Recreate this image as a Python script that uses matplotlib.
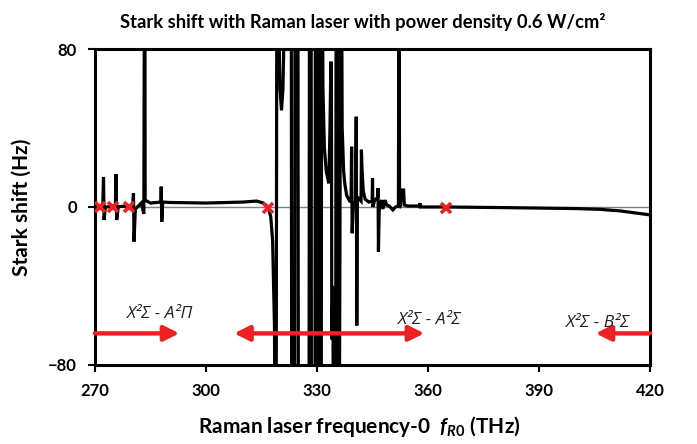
import matplotlib
matplotlib.use('Agg')
import matplotlib.pyplot as plt

plt.rcParams['font.family'] = ['Lato', 'DejaVu Sans']
plt.rcParams['mathtext.fontset'] = 'custom'
plt.rcParams['mathtext.it'] = 'Lato:italic:bold'
plt.rcParams['mathtext.rm'] = 'Lato:bold'

# Stark shift curve (THz, Hz); values past +-80 run off the axes
freq = [270.0, 271.4, 272.1, 272.3, 272.45, 272.8, 274.9, 275.5, 275.7, 275.85,
        276.3, 279.3, 280.2, 280.4, 280.55, 280.9, 282.5, 283.2, 283.45, 283.55,
        284.0, 285.0, 287.8, 287.9, 288.05, 288.3, 290.0, 300.0, 310.0, 313.7,
        315.5, 316.8, 317.5, 318.0, 318.5, 318.9, 319.2, 319.6, 320.0, 320.4,
        320.8, 321.2, 321.5, 323.0, 323.2, 323.9, 324.1, 324.8, 325.0, 327.8,
        328.0, 328.4, 328.5, 329.4, 329.6, 329.9, 330.0, 330.3, 330.4, 330.7,
        330.8, 331.1, 331.3, 331.6, 332.0, 332.5, 333.2, 333.5, 333.75, 333.9,
        334.0, 334.3, 334.5, 335.0, 335.2, 335.6, 335.9, 336.2, 336.5, 336.8,
        337.2, 337.5, 338.0, 338.8, 339.2, 339.35, 339.5, 339.8, 340.4, 340.6,
        340.75, 340.9, 341.9, 342.0, 342.15, 342.5, 343.0, 344.0, 344.9, 345.0,
        345.1, 345.5, 346.4, 346.5, 346.6, 346.8, 347.2, 347.5, 347.8, 348.4,
        348.8, 349.5, 350.5, 351.2, 352.0, 352.2, 352.3, 352.6, 352.8, 353.4,
        353.6, 354.5, 357.7, 357.8, 357.9, 365.0, 380.0, 400.0, 406.5, 412.0,
        420.0]
shift = [0.3, 0.2, 0.5, 15.2, -6.6, 0.0, 0.3, 1.0, 16.7, -6.6,
         0.2, 0.5, 1.5, 6.9, -17.5, -1.0, 2.0, -3.5, 200, 3.5,
         3.0, 2.0, 2.5, 10.3, -7.4, 2.5, 2.3, 2.0, 2.5, 3.0,
         2.0, 0.0, -5.0, -17.0, -60.0, -200, 200, 100, 60, 49,
         60, 100, 200, 200, -200, -200, 200, 200, -200, -200,
         200, 200, -200, -200, 200, 200, -200, -200, 200, 200,
         -200, -200, 200, 60, 30, 18, 12, 40, 73.6, 60,
         -67, -40, -200, -200, 200, 200, -200, -17, 200, 40,
         18, 12, 6, 3, 3, 30.5, -13.3, 1, 3, 45.7,
         -60, 5, 3, 29, 20, 8, 4, 2.5, 3, 14.5,
         0, 3, 5, 9.6, -22.6, -2, 2, 3.5, -1, 3.5,
         1, 0.5, -1.5, 0, 0.5, 200, -0.5, 1, 8.6, 8.6,
         1, 0.5, 0.5, 2, 0, 0, -0.3, -0.8, -1.2, -2,
         -4]

# zero crossings marked with red crosses
cross_f = [271.4, 274.9, 279.3, 316.8, 364.9]
cross_s = [0.0, 0.0, 0.0, -0.5, -0.3]

xticks = [270, 300, 330, 360, 390, 420]
yticks = [-80, 0, 80]

red = '#ED2124'

fig = plt.figure(figsize=(6.97, 4.44), dpi=100)
ax = fig.add_axes([0.1363, 0.178, 0.7963, 0.7116])

ax.axhline(0, color='#808080', lw=1.0, zorder=1)
ax.plot(freq, shift, color='black', lw=2.3, zorder=2, solid_joinstyle='miter')
ax.plot(cross_f, cross_s, 'x', color=red, ms=7, mew=2.6, zorder=3)

# transition bands
arrow_y = -64
ax.annotate('', xy=(292.8, arrow_y), xytext=(270, arrow_y),
            arrowprops=dict(arrowstyle='-|>,head_length=0.9,head_width=0.45',
                            color=red, lw=3.2, shrinkA=0, shrinkB=0))
ax.annotate('', xy=(359.0, arrow_y), xytext=(307.6, arrow_y),
            arrowprops=dict(arrowstyle='<|-|>,head_length=0.9,head_width=0.45',
                            color=red, lw=3.2, shrinkA=0, shrinkB=0))
ax.annotate('', xy=(405.3, arrow_y), xytext=(420, arrow_y),
            arrowprops=dict(arrowstyle='-|>,head_length=0.9,head_width=0.45',
                            color=red, lw=3.2, shrinkA=0, shrinkB=0))

lab = dict(style='italic', fontsize=12.5, ha='center', va='center',
           family=['Open Sans', 'DejaVu Sans'], color='#222222')
ax.text(287.7, -54, 'X\u00b2\u03a3 - A\u00b2\u03a0', **lab)
ax.text(360.5, -57, 'X\u00b2\u03a3 - A\u00b2\u03a3', **lab)
ax.text(405.9, -58.6, 'X\u00b2\u03a3 - B\u00b2\u03a3', **lab)

ax.set_xlim(270, 420)
ax.set_ylim(-80, 80)
ax.set_xticks(xticks)
ax.set_yticks(yticks)
ax.tick_params(direction='out', length=5, width=1.5, labelsize=12, pad=8)
for t in ax.get_xticklabels() + ax.get_yticklabels():
    t.set_fontweight('bold')
for s in ax.spines.values():
    s.set_linewidth(2.2)

ax.set_title('Stark shift with Raman laser with power density 0.6 W/cm\u00b2',
             fontsize=13.2, fontweight='bold', pad=15, x=0.483)
ax.set_xlabel('Raman laser frequency-0  $\\mathit{f_{R0}}$ (THz)',
              fontsize=15, fontweight='bold', labelpad=11, x=0.476)
ax.set_ylabel('Stark shift (Hz)', fontsize=15, fontweight='bold', labelpad=12)

fig.savefig('out.png', dpi=100)
